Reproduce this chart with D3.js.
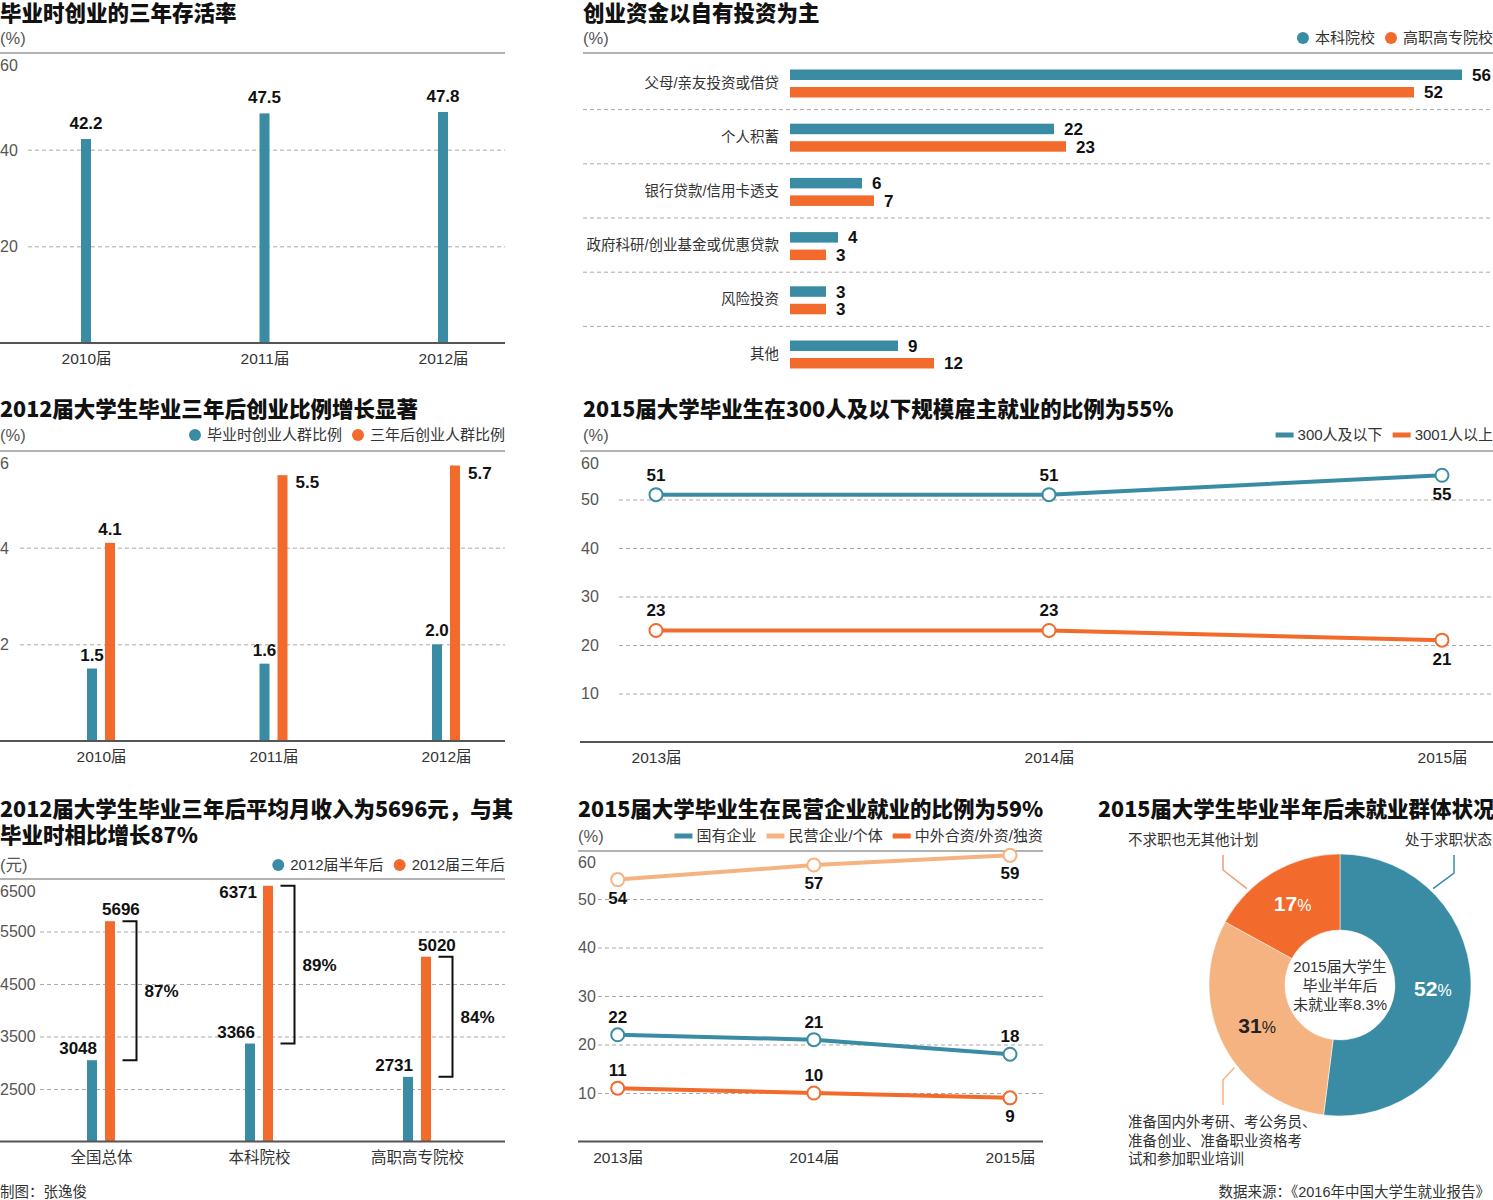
<!DOCTYPE html>
<html lang="zh">
<head>
<meta charset="UTF-8">
<title>大学生创业与就业</title>
<script src="https://d3js.org/d3.v7.min.js"></script>
<style>
  body { margin: 0; background: #fff; }
  svg { display: block; font-family: "Liberation Sans", "Noto Sans CJK SC", sans-serif; }
  .title { font-family: "Noto Sans CJK SC", sans-serif; font-size: 21.5px; font-weight: 900; fill: #111; }
  .unit { font-size: 16.5px; fill: #555; }
  .leg { font-size: 15px; fill: #333; }
  .cat { font-size: 14.5px; fill: #333; }
  .val { font-size: 17px; font-weight: 700; fill: #111; }
  .note { font-size: 14.5px; fill: #333; }
</style>
</head>
<body>
<script>
// ---- data ----
var survYears = ['2010届', '2011届', '2012届'];
var survRate = [42.2, 47.5, 47.8];

var fundCats = ['父母/亲友投资或借贷', '个人积蓄', '银行贷款/信用卡透支', '政府科研/创业基金或优惠贷款', '风险投资', '其他'];
var fundBen = [56, 22, 6, 4, 3, 9];
var fundGao = [52, 23, 7, 3, 3, 12];

var startYears = ['2010届', '2011届', '2012届'];
var startAtGrad = [1.5, 1.6, 2.0];
var startAfter3 = [4.1, 5.5, 5.7];

var sizeYears = ['2013届', '2014届', '2015届'];
var size300 = [51, 51, 55];
var size3001 = [23, 23, 21];

var incomeCats = ['全国总体', '本科院校', '高职高专院校'];
var incomeHalf = [3048, 3366, 2731];
var income3y = [5696, 6371, 5020];
var incomeGrowth = ['87%', '89%', '84%'];

var entYears = ['2013届', '2014届', '2015届'];
var entState = [22, 21, 18];
var entPrivate = [54, 57, 59];
var entForeign = [11, 10, 9];

var idleCats = ['处于求职状态', '准备国内外考研、考公务员、准备创业、准备职业资格考试和参加职业培训', '不求职也无其他计划'];
var idleShare = [52, 31, 17];

// ---- setup ----
var teal = '#3a8ca4', orange = '#f26a2c', peach = '#f6b382';
var svg = d3.select('body').append('svg').attr('width', 1493).attr('height', 1200);
var f1 = d3.format('.1f');

function title(x, y, lines) {
    lines.forEach(function (t, i) {
        svg.append('text').attr('class', 'title').attr('x', x).attr('y', y + i * 26).text(t);
    });
}
function unit(x, y, t) {
    svg.append('text').attr('class', 'unit').attr('x', x).attr('y', y).text(t);
}
function hline(x0, x1, y, color, w) {
    svg.append('line').attr('x1', x0).attr('x2', x1).attr('y1', y).attr('y2', y)
        .attr('stroke', color).attr('stroke-width', w);
}
// y gridlines + labels through d3.axisRight
function yAxis(y, ticks, x0, x1, labelX) {
    var top = d3.max(ticks);
    var g = svg.append('g').attr('transform', 'translate(' + x0 + ',0)')
        .call(d3.axisRight(y).tickValues(ticks).tickFormat(d3.format('d')).tickSize(x1 - x0).tickPadding(0));
    g.attr('font-size', null).attr('font-family', null);
    g.select('.domain').remove();
    g.selectAll('.tick line').attr('stroke', '#aaa').attr('stroke-dasharray', '4,3')
        .filter(function (d) { return d === top; }).remove();
    g.selectAll('.tick text').attr('x', labelX - x0).attr('text-anchor', 'start')
        .attr('dy', function (d) { return d === top ? '1.08em' : '0.34em'; })
        .attr('fill', '#555').style('font-size', '16px');
}
function xAxis(x, y0) {
    var g = svg.append('g').attr('transform', 'translate(0,' + y0 + ')')
        .call(d3.axisBottom(x).tickSize(0));
    g.attr('font-size', null).attr('font-family', null);
    g.select('.domain').remove();
    g.selectAll('.tick text').attr('y', 21).attr('dy', 0).attr('fill', '#333').style('font-size', '15.5px');
}
function legend(xRight, y, items, kind) {
    var x = xRight;
    for (var i = items.length - 1; i >= 0; i--) {
        var t = svg.append('text').attr('class', 'leg').attr('x', x).attr('y', y)
            .attr('text-anchor', 'end').text(items[i][0]);
        x -= t.node().getComputedTextLength();
        if (kind === 'dot') {
            x -= 6;
            svg.append('circle').attr('cx', x - 6).attr('cy', y - 5).attr('r', 6).attr('fill', items[i][1]);
            x -= 12;
        } else {
            x -= 4;
            svg.append('rect').attr('x', x - 18).attr('y', y - 7.5).attr('width', 18).attr('height', 5).attr('fill', items[i][1]);
            x -= 18;
        }
        x -= 10;
    }
}

// ---- 1. 毕业时创业的三年存活率 ----
(function () {
    title(0, 21, ['毕业时创业的三年存活率']);
    unit(0, 44, '(%)');
    var x = d3.scalePoint().domain(survYears).range([86, 443]);
    var y = d3.scaleLinear().domain([0, 60]).range([343, 53]);
    yAxis(y, [20, 40, 60], 28, 505, 0);
    hline(0, 505, 53, '#999', 1.5);
    svg.append('g').selectAll('rect').data(survRate).join('rect')
        .attr('x', function (d, i) { return x(survYears[i]) - 5; })
        .attr('y', function (d) { return y(d); })
        .attr('width', 10).attr('height', function (d) { return y(0) - y(d); })
        .attr('fill', teal);
    svg.append('g').selectAll('text').data(survRate).join('text').attr('class', 'val')
        .attr('x', function (d, i) { return x(survYears[i]); })
        .attr('y', function (d) { return y(d) - 10; })
        .attr('text-anchor', 'middle').text(f1);
    hline(0, 505, 343, '#555', 2);
    xAxis(x, 343);
})();

// ---- 2. 创业资金以自有投资为主 ----
(function () {
    title(583, 21, ['创业资金以自有投资为主']);
    unit(583, 44, '(%)');
    legend(1493, 43, [['本科院校', teal], ['高职高专院校', orange]], 'dot');
    hline(583, 1493, 53, '#999', 1.5);
    var y = d3.scaleBand().domain(fundCats).range([55.4, 380.6]);
    var x = d3.scaleLinear().domain([0, d3.max(fundBen.concat(fundGao))]).range([790, 1462]);
    fundCats.slice(1).forEach(function (c) {
        svg.append('line').attr('x1', 583).attr('x2', 1493).attr('y1', y(c)).attr('y2', y(c))
            .attr('stroke', '#aaa').attr('stroke-dasharray', '4,3');
    });
    svg.append('g').selectAll('text').data(fundCats).join('text').attr('class', 'cat')
        .attr('x', 779).attr('y', function (d) { return y(d) + y.bandwidth() / 2; })
        .attr('dy', '0.35em').attr('text-anchor', 'end').text(function (d) { return d; });
    [[fundBen, teal, -13], [fundGao, orange, 4.5]].forEach(function (s) {
        var g = svg.append('g');
        g.selectAll('rect').data(s[0]).join('rect')
            .attr('x', x(0))
            .attr('y', function (d, i) { return y(fundCats[i]) + y.bandwidth() / 2 + s[2]; })
            .attr('width', function (d) { return x(d) - x(0); })
            .attr('height', 10.5).attr('fill', s[1]);
        g.selectAll('text').data(s[0]).join('text').attr('class', 'val')
            .attr('x', function (d) { return x(d) + 10; })
            .attr('y', function (d, i) { return y(fundCats[i]) + y.bandwidth() / 2 + s[2] + 5.25; })
            .attr('dy', '0.36em').text(function (d) { return d; });
    });
})();

// ---- 3. 2012届大学生毕业三年后创业比例增长显著 ----
(function () {
    title(0, 417, ['2012届大学生毕业三年后创业比例增长显著']);
    unit(0, 441, '(%)');
    legend(505, 440, [['毕业时创业人群比例', teal], ['三年后创业人群比例', orange]], 'dot');
    var x = d3.scalePoint().domain(startYears).range([101, 446]);
    var y = d3.scaleLinear().domain([0, 6]).range([741, 451]);
    yAxis(y, [2, 4, 6], 20, 505, 0);
    hline(0, 505, 451, '#999', 1.5);
    [[startAtGrad, teal, -9], [startAfter3, orange, 9]].forEach(function (s) {
        var g = svg.append('g');
        g.selectAll('rect').data(s[0]).join('rect')
            .attr('x', function (d, i) { return x(startYears[i]) + s[2] - 5; })
            .attr('y', function (d) { return y(d); })
            .attr('width', 10).attr('height', function (d) { return y(0) - y(d); })
            .attr('fill', s[1]);
        g.selectAll('text').data(s[0]).join('text').attr('class', 'val')
            .each(function (d, i) {
                var cx = x(startYears[i]) + s[2];
                var t = d3.select(this);
                if (y(d) - 32 < 451) {
                    t.attr('x', cx + 13).attr('y', y(d) + 13).attr('text-anchor', 'start');
                } else {
                    t.attr('x', cx).attr('y', y(d) - 8).attr('text-anchor', 'middle');
                }
            })
            .text(f1);
    });
    hline(0, 505, 741, '#555', 2);
    xAxis(x, 741);
})();

// ---- 4. 300人及以下规模雇主 ----
(function () {
    title(583, 417, ['2015届大学毕业生在300人及以下规模雇主就业的比例为55%']);
    unit(583, 441, '(%)');
    legend(1493, 440, [['300人及以下', teal], ['3001人以上', orange]], 'line');
    var x = d3.scalePoint().domain(sizeYears).range([656, 1442]);
    var y = d3.scaleLinear().domain([0, 60]).range([742, 451]);
    yAxis(y, [10, 20, 30, 40, 50, 60], 619, 1493, 581);
    hline(580, 1493, 451, '#999', 1.5);
    hline(580, 1493, 742, '#555', 2);
    xAxis(x, 742);
    var line = d3.line().x(function (d, i) { return x(sizeYears[i]); }).y(function (d) { return y(d); });
    [[size300, teal, [0, 0, 1]], [size3001, orange, [0, 0, 1]]].forEach(function (s) {
        var g = svg.append('g');
        g.append('path').datum(s[0]).attr('d', line).attr('fill', 'none')
            .attr('stroke', s[1]).attr('stroke-width', 4);
        g.selectAll('circle').data(s[0]).join('circle')
            .attr('cx', function (d, i) { return x(sizeYears[i]); })
            .attr('cy', function (d) { return y(d); })
            .attr('r', 6.5).attr('fill', '#fff').attr('stroke', s[1]).attr('stroke-width', 2);
        g.selectAll('text').data(s[0]).join('text').attr('class', 'val')
            .attr('x', function (d, i) { return x(sizeYears[i]); })
            .attr('y', function (d, i) { return s[2][i] ? y(d) + 25 : y(d) - 14; })
            .attr('text-anchor', 'middle').text(function (d) { return d; });
    });
})();

// ---- 5. 平均月收入 ----
(function () {
    title(0, 817, ['2012届大学生毕业三年后平均月收入为5696元，与其', '毕业时相比增长87%']);
    unit(0, 871, '(元)');
    legend(505, 870, [['2012届半年后', teal], ['2012届三年后', orange]], 'dot');
    var x = d3.scalePoint().domain(incomeCats).range([101, 417]);
    var y = d3.scaleLinear().domain([1500, 6500]).range([1141.5, 879]);
    yAxis(y, [2500, 3500, 4500, 5500, 6500], 40, 505, 0);
    hline(0, 505, 879, '#999', 1.5);
    var g = svg.append('g');
    g.selectAll('rect.h').data(incomeHalf).join('rect').attr('class', 'h')
        .attr('x', function (d, i) { return x(incomeCats[i]) - 14; })
        .attr('y', function (d) { return y(d); })
        .attr('width', 10).attr('height', function (d) { return y(1500) - y(d); })
        .attr('fill', teal);
    g.selectAll('rect.t').data(income3y).join('rect').attr('class', 't')
        .attr('x', function (d, i) { return x(incomeCats[i]) + 4; })
        .attr('y', function (d) { return y(d); })
        .attr('width', 10).attr('height', function (d) { return y(1500) - y(d); })
        .attr('fill', orange);
    g.selectAll('text.h').data(incomeHalf).join('text').attr('class', 'val h')
        .attr('x', function (d, i) { return x(incomeCats[i]) - 4; })
        .attr('y', function (d) { return y(d) - 6; })
        .attr('text-anchor', 'end').text(function (d) { return d; });
    g.selectAll('text.t').data(income3y).join('text').attr('class', 'val t')
        .each(function (d, i) {
            var t = d3.select(this);
            if (y(d) - 22 < 879) {
                t.attr('x', x(incomeCats[i]) - 2).attr('y', y(d) + 12).attr('text-anchor', 'end');
            } else {
                t.attr('x', x(incomeCats[i]) + 1).attr('y', y(d) - 6).attr('text-anchor', 'start');
            }
        })
        .text(function (d) { return d; });
    // brackets
    incomeCats.forEach(function (c, i) {
        var xa = x(c) + 21.5, xb = x(c) + 35.5;
        var ya = y(income3y[i]), yb = y(incomeHalf[i]);
        g.append('path').attr('d', 'M' + xa + ',' + ya + 'H' + xb + 'V' + yb + 'H' + xa)
            .attr('fill', 'none').attr('stroke', '#111').attr('stroke-width', 2);
        g.append('text').attr('class', 'val').attr('x', xb + 8).attr('y', (ya + yb) / 2)
            .attr('dy', '0.35em').text(incomeGrowth[i]);
    });
    hline(0, 505, 1141.5, '#555', 2);
    xAxis(x, 1141.5);
})();

// ---- 6. 民营企业就业 ----
(function () {
    title(578, 817, ['2015届大学毕业生在民营企业就业的比例为59%']);
    unit(578, 842, '(%)');
    legend(1043, 841, [['国有企业', teal], ['民营企业/个体', peach], ['中外合资/外资/独资', orange]], 'line');
    var x = d3.scalePoint().domain(entYears).range([617.7, 1010]);
    var y = d3.scaleLinear().domain([0, 60]).range([1141.5, 850.5]);
    yAxis(y, [10, 20, 30, 40, 50, 60], 598, 1043, 578);
    hline(578, 1043, 851, '#999', 1.5);
    hline(578, 1043, 1141.5, '#555', 2);
    xAxis(x, 1141.5);
    var line = d3.line().x(function (d, i) { return x(entYears[i]); }).y(function (d) { return y(d); });
    [[entPrivate, peach, [1, 1, 1]], [entState, teal, [0, 0, 0]], [entForeign, orange, [0, 0, 1]]].forEach(function (s) {
        var g = svg.append('g');
        g.append('path').datum(s[0]).attr('d', line).attr('fill', 'none')
            .attr('stroke', s[1]).attr('stroke-width', 4);
        g.selectAll('circle').data(s[0]).join('circle')
            .attr('cx', function (d, i) { return x(entYears[i]); })
            .attr('cy', function (d) { return y(d); })
            .attr('r', 6.5).attr('fill', '#fff').attr('stroke', s[1]).attr('stroke-width', 2);
        g.selectAll('text').data(s[0]).join('text').attr('class', 'val')
            .attr('x', function (d, i) { return x(entYears[i]); })
            .attr('y', function (d, i) { return s[2][i] ? y(d) + 24 : y(d) - 12; })
            .attr('text-anchor', 'middle').text(function (d) { return d; });
    });
})();

// ---- 7. 未就业群体状况 ----
(function () {
    title(1098, 817, ['2015届大学生毕业半年后未就业群体状况']);
    var cx = 1340, cy = 985;
    var colors = [teal, peach, orange];
    var pie = d3.pie().sort(null).value(function (d) { return d; });
    var arc = d3.arc().innerRadius(55).outerRadius(131);
    var arcs = pie(idleShare);
    var g = svg.append('g').attr('transform', 'translate(' + cx + ',' + cy + ')');
    g.selectAll('path').data(arcs).join('path').attr('d', arc)
        .attr('fill', function (d, i) { return colors[i]; })
        .attr('stroke', '#fff').attr('stroke-width', 0.5);
    g.selectAll('text.pct').data(arcs).join('text').attr('class', 'pct')
        .attr('transform', function (d) { return 'translate(' + arc.centroid(d) + ')'; })
        .attr('text-anchor', 'middle').attr('dy', '0.35em')
        .attr('fill', function (d, i) { return i === 1 ? '#222' : '#fff'; })
        .each(function (d) {
            var t = d3.select(this);
            t.append('tspan').style('font-size', '21px').style('font-weight', 700).text(d.data);
            t.append('tspan').style('font-size', '16px').text('%');
        });
    ['2015届大学生', '毕业半年后', '未就业率8.3%'].forEach(function (s, i) {
        g.append('text').attr('x', 0).attr('y', -18 + i * 19).attr('dy', '0.35em')
            .attr('text-anchor', 'middle').style('font-size', '15px').attr('fill', '#333').text(s);
    });
    // leader lines
    var r = 134;
    function pt(deg) { var a = deg * Math.PI / 180; return [r * Math.sin(a), -r * Math.cos(a)]; }
    var leaders = [
        { deg: 44, color: teal, path: function (p) { return [p, [114, -112], [114, -130]]; } },
        { deg: 232, color: peach, path: function (p) { return [p, [-117, 95], [-117, 120]]; } },
        { deg: 316, color: '#ee9a74', path: function (p) { return [p, [-117, -115], [-117, -130]]; } }
    ];
    leaders.forEach(function (l) {
        g.append('path').attr('d', d3.line()(l.path(pt(l.deg))))
            .attr('fill', 'none').attr('stroke', l.color).attr('stroke-width', 1.5);
    });
    svg.append('text').attr('class', 'note').attr('x', 1492).attr('y', 845).attr('text-anchor', 'end').text(idleCats[0]);
    svg.append('text').attr('class', 'note').attr('x', 1128).attr('y', 845).text(idleCats[2]);
    ['准备国内外考研、考公务员、', '准备创业、准备职业资格考', '试和参加职业培训'].forEach(function (s, i) {
        svg.append('text').attr('class', 'note').attr('x', 1128).attr('y', 1127 + i * 18.5).text(s);
    });
})();

// ---- footer ----
svg.append('text').attr('class', 'note').attr('x', 0).attr('y', 1197).text('制图：张逸俊');
svg.append('text').attr('class', 'note').attr('x', 1490).attr('y', 1197).attr('text-anchor', 'end')
    .text('数据来源：《2016年中国大学生就业报告》');
</script>
</body>
</html>
